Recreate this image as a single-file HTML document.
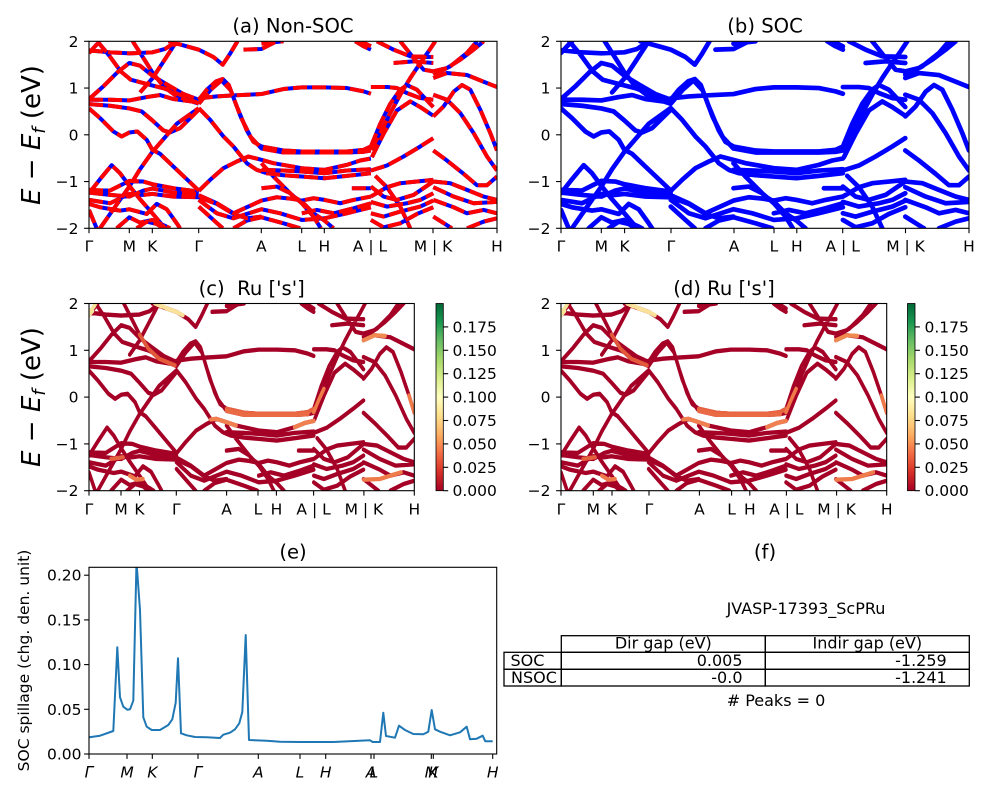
<!DOCTYPE html>
<html><head><meta charset="utf-8"><style>
html,body{margin:0;padding:0;background:#fff;}
svg{display:block;font-family:"DejaVu Sans","Liberation Sans",sans-serif;}
</style></head><body>
<svg width="1000" height="800" viewBox="0 0 1000 800" xmlns="http://www.w3.org/2000/svg">
<defs>
<linearGradient id="cmap" x1="0" y1="1" x2="0" y2="0">
<stop offset="0" stop-color="#a50026"/><stop offset="0.1" stop-color="#d73027"/><stop offset="0.2" stop-color="#f46d43"/><stop offset="0.3" stop-color="#fdae61"/><stop offset="0.4" stop-color="#fee08b"/><stop offset="0.5" stop-color="#ffffbf"/><stop offset="0.6" stop-color="#d9ef8b"/><stop offset="0.7" stop-color="#a6d96a"/><stop offset="0.8" stop-color="#66bd63"/><stop offset="0.9" stop-color="#1a9850"/><stop offset="1" stop-color="#006837"/>
</linearGradient>
<g id="bands" fill="none">
<path d="M267,152 L330,158 L388,161 L457,158 L495,148 L530,125
M505,125 L560,140 L596,150 L640,172 L668,195 L690,162 L712,125
M267,160 L285,140 L300,125
M292,125 L327,167 L362,215 L392,240 L452,256 L492,266 L552,290 L596,312
M267,298 L312,258 L352,218 L388,190 L420,198 L457,228 L500,254 L550,283 L596,300
M398,125 L430,175 L457,218 L490,260 L530,290 L596,312
M420,278 L457,236 L490,186 L520,140 L530,125
M267,300 L330,300 L388,302 L440,292 L480,286 L520,298 L596,308
M267,313 L330,318 L388,326 L425,335 L457,362 L490,392 L510,398 L540,385 L596,330
M267,326 L300,355 L340,395 L365,410 L388,398 L412,395 L440,420 L457,450 L480,462 L520,500 L560,538 L596,572
M300,685 L340,628 L388,560 L420,508 L457,456 L490,418 L530,372 L596,325
M267,580 L300,538 L335,496 L360,520 L388,558 L420,598 L457,640 L495,685
M267,570 L330,572 L388,543 L430,545 L457,553 L520,565 L596,575
M267,578 L330,585 L388,590 L430,572 L457,566 L520,578 L596,582
M267,600 L330,610 L388,582 L430,585 L457,582 L520,590 L596,592 L650,612 L700,642 L740,655 L784,650
M267,612 L300,622 L360,632 L388,628 L440,642 L470,612 L500,628 L530,670 L540,685
M267,630 L290,685
M350,685 L388,652 L420,668 L457,660 L500,680 L510,685
M410,685 L440,665 L470,672 L490,685
M596,300 L620,270 L648,245 L668,238 L686,256 L710,320 L740,392 L760,426 L784,440 L850,452 L905,455 L973,455 L1040,455 L1090,450 L1112,440
M596,312 L632,270 L664,242 L692,272 L722,352 L752,412 L784,446 L850,458 L973,458 L1040,458 L1090,456 L1112,452
M596,296 L650,290 L700,287 L784,283 L850,268 L905,263 L973,263 L1040,265 L1090,275 L1112,282
M596,325 L630,360 L670,410 L700,440 L740,490 L770,510 L800,520 L850,526 L905,530 L973,535 L1040,528 L1112,520
M596,573 L630,540 L670,505 L710,485 L745,470 L784,480 L820,490 L905,505 L973,510 L1040,495 L1080,482 L1112,476
M784,510 L850,512 L905,515 L973,520 L1040,512 L1112,508
M596,586 L650,610 L700,640 L740,622 L784,602 L830,592 L870,596 L905,602 L940,595 L973,600 L1020,610 L1060,600 L1112,590
M784,565 L830,560 L870,580 L905,610 L940,650 L962,685
M596,600 L650,640 L700,655 L740,642 L784,628 L840,640 L905,660 L973,655 L1040,640 L1112,622
M784,490 L820,530 L850,560 L880,590 L905,605 L940,640 L973,662 L1000,685
M1055,565 L1112,565
M730,150 L784,148 L810,135 L830,125
M784,132 L850,125
M1065,125 L1090,140 L1112,150
M1082,125 L1112,140
M596,620 L640,660 L668,685
M700,685 L740,662 L784,652 L850,670 L900,685
M905,640 L950,630 L1000,640 L1060,625 L1112,610
M1112,262 L1160,262 L1190,265 L1220,280 L1260,295 L1299,300
M1112,450 L1140,400 L1170,340 L1200,285 L1230,235 L1260,190 L1285,155 L1305,125
M1112,440 L1140,372 L1170,312 L1200,270 L1220,256 L1250,270 L1299,322
M1115,472 L1150,402 L1190,332 L1230,305 L1260,322 L1299,348
M1112,512 L1160,497 L1210,470 L1260,440 L1299,415
M1130,125 L1180,150 L1230,170 L1299,172
M1180,190 L1240,185 L1299,190
M1200,125 L1240,175 L1270,210 L1299,215
M1112,560 L1150,590 L1190,600 L1240,585 L1299,545
M1112,590 L1160,562 L1200,550 L1250,545 L1299,540
M1112,606 L1160,620 L1220,610 L1260,600 L1299,580
M1112,640 L1150,650 L1200,635 L1260,620 L1299,602
M1112,660 L1150,682 L1200,670 L1250,642 L1299,622
M1125,528 L1160,562 L1200,620 L1230,685
M1299,215 L1340,205 L1380,180 L1420,150 L1450,125
M1299,225 L1350,200 L1400,160 L1430,125
M1299,235 L1340,220 L1400,226 L1450,246 L1490,262
M1299,350 L1330,320 L1360,276 L1385,256 L1410,270 L1440,330 L1470,400 L1490,452
M1299,285 L1340,300 L1380,340 L1420,400 L1460,470 L1490,512
M1299,452 L1340,482 L1390,522 L1430,556 L1460,556 L1490,530
M1299,545 L1350,550 L1400,570 L1450,590 L1490,600
M1299,562 L1360,590 L1420,610 L1490,606
M1299,600 L1360,622 L1400,640 L1450,630 L1490,640
M1299,650 L1350,682 L1355,685
M1400,685 L1450,665 L1490,655"/>
</g>
<g id="hl" fill="none">
<path stroke="#f7e59a" d="M267,152 L285,135 L292,125 M267,160 L280,148"/>
<path stroke="#fbe29a" d="M545,134 L560,140 L596,150 L620,160 M515,125 L540,134"/>
<path stroke="#e25a3a" d="M457,218 L490,260 L530,290 L590,310"/>
<path stroke="#e8633f" d="M784,440 L850,452 L905,455 L973,455 L1040,455 L1090,450 L1112,440"/>
<path stroke="#ea6a44" d="M784,446 L850,458 L973,458 L1040,458 L1090,456"/>
<path stroke="#f08050" d="M725,472 L745,470 L784,480 L820,490 M1040,495 L1080,482 L1112,476"/>
<path stroke="#f08a50" d="M1299,235 L1340,220 L1380,222"/>
<path stroke="#ef7b4b" d="M420,640 L445,652 L470,650 M1300,652 L1360,650 L1420,635 L1440,630"/>
<path stroke="#f07a48" d="M1470,400 L1490,452 M1112,450 L1130,415 L1150,380"/>
<path stroke="#e4603e" d="M350,590 L395,585"/>
</g>
<clipPath id="clipE"><rect x="89" y="567.3" width="407.7" height="186.7"/></clipPath>
</defs>

<!-- Panel (a) -->
<text x="293" y="32.7" font-size="19.6" text-anchor="middle">(a) Non-SOC</text>
<svg x="89" y="41.3" width="408" height="187" viewBox="267 125 1223 560" preserveAspectRatio="none" overflow="hidden">
<use href="#bands" stroke="#0000ff" stroke-width="12" stroke-linejoin="round"/>
<use href="#bands" stroke="#ff0000" stroke-width="12" stroke-dasharray="42 15" stroke-linejoin="round"/>
</svg>
<rect x="89" y="41.3" width="408" height="187" fill="none" stroke="#000" stroke-width="1.1"/>
<g stroke="#000" stroke-width="1.1">
<line x1="84.1" y1="41.3" x2="89" y2="41.3"/><line x1="84.1" y1="88.05" x2="89" y2="88.05"/><line x1="84.1" y1="134.8" x2="89" y2="134.8"/><line x1="84.1" y1="181.55" x2="89" y2="181.55"/><line x1="84.1" y1="228.3" x2="89" y2="228.3"/>
<line x1="89" y1="228.3" x2="89" y2="233.2"/><line x1="129.3" y1="228.3" x2="129.3" y2="233.2"/><line x1="152.3" y1="228.3" x2="152.3" y2="233.2"/><line x1="198.7" y1="228.3" x2="198.7" y2="233.2"/><line x1="261.3" y1="228.3" x2="261.3" y2="233.2"/><line x1="301.7" y1="228.3" x2="301.7" y2="233.2"/><line x1="324.3" y1="228.3" x2="324.3" y2="233.2"/><line x1="370" y1="228.3" x2="370" y2="233.2"/><line x1="433" y1="228.3" x2="433" y2="233.2"/><line x1="497" y1="228.3" x2="497" y2="233.2"/>
</g>
<g font-size="15.5" text-anchor="end">
<text x="78.5" y="46.8">2</text><text x="78.5" y="93.5">1</text><text x="78.5" y="140.3">0</text><text x="78.5" y="187">−1</text><text x="78.5" y="233.8">−2</text>
</g>
<g font-size="15.5" text-anchor="middle">
<text x="89" y="251.7">Γ</text><text x="129.3" y="251.7">M</text><text x="152.3" y="251.7">K</text><text x="198.7" y="251.7">Γ</text><text x="261.3" y="251.7">A</text><text x="301.7" y="251.7">L</text><text x="324.3" y="251.7">H</text><text x="370" y="251.7">A | L</text><text x="433" y="251.7">M | K</text><text x="497" y="251.7">H</text>
</g>
<text transform="translate(40,135) rotate(-90)" font-size="26" text-anchor="middle"><tspan font-style="italic">E</tspan> − <tspan font-style="italic">E</tspan><tspan font-style="italic" font-size="18" dy="5">f</tspan><tspan dy="-5"> (eV)</tspan></text>

<!-- Panel (b) -->
<text x="765" y="32.7" font-size="19.6" text-anchor="middle">(b) SOC</text>
<svg x="561" y="41.3" width="408" height="187" viewBox="267 125 1223 560" preserveAspectRatio="none" overflow="hidden">
<use href="#bands" stroke="#0000ff" stroke-width="14" stroke-linejoin="round" stroke-linecap="round"/>
</svg>
<rect x="561" y="41.3" width="408" height="187" fill="none" stroke="#000" stroke-width="1.1"/>
<g stroke="#000" stroke-width="1.1">
<line x1="556.1" y1="41.3" x2="561" y2="41.3"/><line x1="556.1" y1="88.05" x2="561" y2="88.05"/><line x1="556.1" y1="134.8" x2="561" y2="134.8"/><line x1="556.1" y1="181.55" x2="561" y2="181.55"/><line x1="556.1" y1="228.3" x2="561" y2="228.3"/>
<line x1="561" y1="228.3" x2="561" y2="233.2"/><line x1="601.3" y1="228.3" x2="601.3" y2="233.2"/><line x1="624.6" y1="228.3" x2="624.6" y2="233.2"/><line x1="671" y1="228.3" x2="671" y2="233.2"/><line x1="734" y1="228.3" x2="734" y2="233.2"/><line x1="774" y1="228.3" x2="774" y2="233.2"/><line x1="796.8" y1="228.3" x2="796.8" y2="233.2"/><line x1="842.7" y1="228.3" x2="842.7" y2="233.2"/><line x1="905.5" y1="228.3" x2="905.5" y2="233.2"/><line x1="969" y1="228.3" x2="969" y2="233.2"/>
</g>
<g font-size="15.5" text-anchor="end">
<text x="550.5" y="46.8">2</text><text x="550.5" y="93.5">1</text><text x="550.5" y="140.3">0</text><text x="550.5" y="187">−1</text><text x="550.5" y="233.8">−2</text>
</g>
<g font-size="15.5" text-anchor="middle">
<text x="561" y="251.7">Γ</text><text x="601.3" y="251.7">M</text><text x="624.6" y="251.7">K</text><text x="671" y="251.7">Γ</text><text x="734" y="251.7">A</text><text x="774" y="251.7">L</text><text x="796.8" y="251.7">H</text><text x="842.7" y="251.7">A | L</text><text x="905.5" y="251.7">M | K</text><text x="969" y="251.7">H</text>
</g>

<!-- Panel (c) -->
<text x="251.7" y="294.9" font-size="19.6" text-anchor="middle">(c)&#160; Ru ['s']</text>
<svg x="89" y="303.5" width="325.3" height="187.2" viewBox="267 125 1223 560" preserveAspectRatio="none" overflow="hidden">
<use href="#bands" stroke="#a50026" stroke-width="13" stroke-linejoin="round" stroke-linecap="round"/>
<use href="#hl" stroke-width="13" stroke-linejoin="round" stroke-linecap="round"/>
</svg>
<rect x="89" y="303.5" width="325.3" height="187.2" fill="none" stroke="#000" stroke-width="1.1"/>
<g stroke="#000" stroke-width="1.1">
<line x1="84.1" y1="303.5" x2="89" y2="303.5"/><line x1="84.1" y1="350.3" x2="89" y2="350.3"/><line x1="84.1" y1="397.1" x2="89" y2="397.1"/><line x1="84.1" y1="443.9" x2="89" y2="443.9"/><line x1="84.1" y1="490.7" x2="89" y2="490.7"/>
<line x1="89" y1="490.7" x2="89" y2="495.6"/><line x1="121" y1="490.7" x2="121" y2="495.6"/><line x1="139.5" y1="490.7" x2="139.5" y2="495.6"/><line x1="176.3" y1="490.7" x2="176.3" y2="495.6"/><line x1="226.6" y1="490.7" x2="226.6" y2="495.6"/><line x1="258" y1="490.7" x2="258" y2="495.6"/><line x1="276.4" y1="490.7" x2="276.4" y2="495.6"/><line x1="313.6" y1="490.7" x2="313.6" y2="495.6"/><line x1="363.9" y1="490.7" x2="363.9" y2="495.6"/><line x1="414.3" y1="490.7" x2="414.3" y2="495.6"/>
</g>
<g font-size="15.5" text-anchor="end">
<text x="78.5" y="309">2</text><text x="78.5" y="355.8">1</text><text x="78.5" y="402.6">0</text><text x="78.5" y="449.4">−1</text><text x="78.5" y="496.2">−2</text>
</g>
<g font-size="15.5" text-anchor="middle">
<text x="89" y="514.3">Γ</text><text x="121" y="514.3">M</text><text x="139.5" y="514.3">K</text><text x="176.3" y="514.3">Γ</text><text x="226.6" y="514.3">A</text><text x="258" y="514.3">L</text><text x="276.4" y="514.3">H</text><text x="313.6" y="514.3">A | L</text><text x="363.9" y="514.3">M | K</text><text x="414.3" y="514.3">H</text>
</g>
<text transform="translate(40,397) rotate(-90)" font-size="26" text-anchor="middle"><tspan font-style="italic">E</tspan> − <tspan font-style="italic">E</tspan><tspan font-style="italic" font-size="18" dy="5">f</tspan><tspan dy="-5"> (eV)</tspan></text>
<!-- colorbar c -->
<rect x="436" y="303.5" width="7.3" height="187.2" fill="url(#cmap)" stroke="#000" stroke-width="0.8"/>
<g stroke="#000" stroke-width="1.1">
<line x1="443.3" y1="490.7" x2="448.2" y2="490.7"/><line x1="443.3" y1="467.3" x2="448.2" y2="467.3"/><line x1="443.3" y1="443.9" x2="448.2" y2="443.9"/><line x1="443.3" y1="420.5" x2="448.2" y2="420.5"/><line x1="443.3" y1="397.1" x2="448.2" y2="397.1"/><line x1="443.3" y1="373.7" x2="448.2" y2="373.7"/><line x1="443.3" y1="350.3" x2="448.2" y2="350.3"/><line x1="443.3" y1="326.9" x2="448.2" y2="326.9"/>
</g>
<g font-size="15.5">
<text x="452.5" y="496.2">0.000</text><text x="452.5" y="472.8">0.025</text><text x="452.5" y="449.4">0.050</text><text x="452.5" y="426">0.075</text><text x="452.5" y="402.6">0.100</text><text x="452.5" y="379.2">0.125</text><text x="452.5" y="355.8">0.150</text><text x="452.5" y="332.4">0.175</text>
</g>

<!-- Panel (d) -->
<text x="724" y="294.9" font-size="19.6" text-anchor="middle">(d) Ru ['s']</text>
<svg x="561" y="303.5" width="325.7" height="187.2" viewBox="267 125 1223 560" preserveAspectRatio="none" overflow="hidden">
<use href="#bands" stroke="#a50026" stroke-width="13" stroke-linejoin="round" stroke-linecap="round"/>
<use href="#hl" stroke-width="13" stroke-linejoin="round" stroke-linecap="round"/>
</svg>
<rect x="561" y="303.5" width="325.7" height="187.2" fill="none" stroke="#000" stroke-width="1.1"/>
<g stroke="#000" stroke-width="1.1">
<line x1="556.1" y1="303.5" x2="561" y2="303.5"/><line x1="556.1" y1="350.3" x2="561" y2="350.3"/><line x1="556.1" y1="397.1" x2="561" y2="397.1"/><line x1="556.1" y1="443.9" x2="561" y2="443.9"/><line x1="556.1" y1="490.7" x2="561" y2="490.7"/>
<line x1="561" y1="490.7" x2="561" y2="495.6"/><line x1="593.3" y1="490.7" x2="593.3" y2="495.6"/><line x1="612" y1="490.7" x2="612" y2="495.6"/><line x1="649" y1="490.7" x2="649" y2="495.6"/><line x1="699.4" y1="490.7" x2="699.4" y2="495.6"/><line x1="731.6" y1="490.7" x2="731.6" y2="495.6"/><line x1="749.8" y1="490.7" x2="749.8" y2="495.6"/><line x1="786.4" y1="490.7" x2="786.4" y2="495.6"/><line x1="836.6" y1="490.7" x2="836.6" y2="495.6"/><line x1="886.7" y1="490.7" x2="886.7" y2="495.6"/>
</g>
<g font-size="15.5" text-anchor="end">
<text x="550.5" y="309">2</text><text x="550.5" y="355.8">1</text><text x="550.5" y="402.6">0</text><text x="550.5" y="449.4">−1</text><text x="550.5" y="496.2">−2</text>
</g>
<g font-size="15.5" text-anchor="middle">
<text x="561" y="514.3">Γ</text><text x="593.3" y="514.3">M</text><text x="612" y="514.3">K</text><text x="649" y="514.3">Γ</text><text x="699.4" y="514.3">A</text><text x="731.6" y="514.3">L</text><text x="749.8" y="514.3">H</text><text x="786.4" y="514.3">A | L</text><text x="836.6" y="514.3">M | K</text><text x="886.7" y="514.3">H</text>
</g>
<!-- colorbar d -->
<rect x="907.5" y="303.5" width="7.5" height="187.2" fill="url(#cmap)" stroke="#000" stroke-width="0.8"/>
<g stroke="#000" stroke-width="1.1">
<line x1="915" y1="490.7" x2="919.9" y2="490.7"/><line x1="915" y1="467.3" x2="919.9" y2="467.3"/><line x1="915" y1="443.9" x2="919.9" y2="443.9"/><line x1="915" y1="420.5" x2="919.9" y2="420.5"/><line x1="915" y1="397.1" x2="919.9" y2="397.1"/><line x1="915" y1="373.7" x2="919.9" y2="373.7"/><line x1="915" y1="350.3" x2="919.9" y2="350.3"/><line x1="915" y1="326.9" x2="919.9" y2="326.9"/>
</g>
<g font-size="15.5">
<text x="924.5" y="496.2">0.000</text><text x="924.5" y="472.8">0.025</text><text x="924.5" y="449.4">0.050</text><text x="924.5" y="426">0.075</text><text x="924.5" y="402.6">0.100</text><text x="924.5" y="379.2">0.125</text><text x="924.5" y="355.8">0.150</text><text x="924.5" y="332.4">0.175</text>
</g>

<!-- Panel (e) -->
<text x="293" y="558.5" font-size="19.6" text-anchor="middle">(e)</text>
<g clip-path="url(#clipE)">
<polyline fill="none" stroke="#1f77b4" stroke-width="2" stroke-linejoin="round" points="89.3,737.3 100,735.7 113.3,731 117.3,647.3 120,697.3 123.3,706.7 127.3,709.7 130,709.3 133.3,700.7 136.5,562 140,610 143.3,717.3 146.7,726.7 151.7,730 160,730 168.3,725 172.3,719.3 175.7,702.7 178,658.3 181,733.3 186.7,735.3 195,737 206.7,737.3 220,738 223.3,734.7 230,732.7 235,729.3 239.3,723.3 242.3,712 245.7,635 249,740 266.7,740.7 280,741.7 300,742 333.3,742 370,740.3 372.7,742 380,742 383.3,712.7 386,736 395,737.7 399,725.7 405,730 413.3,734 423.3,734.3 428.3,731.7 431.7,710 435,729.3 440,731.7 450,735.3 460,732.3 466.7,726.7 470,739.3 476.7,738.7 482.7,735.7 485.3,741.3 492.7,741.3"/>
</g>
<rect x="89" y="567.3" width="407.7" height="186.7" fill="none" stroke="#000" stroke-width="1.1"/>
<g stroke="#000" stroke-width="1.1">
<line x1="84.1" y1="754" x2="89" y2="754"/><line x1="84.1" y1="709.3" x2="89" y2="709.3"/><line x1="84.1" y1="664.6" x2="89" y2="664.6"/><line x1="84.1" y1="619.9" x2="89" y2="619.9"/><line x1="84.1" y1="575.2" x2="89" y2="575.2"/>
<line x1="89" y1="754" x2="89" y2="758.9"/><line x1="127" y1="754" x2="127" y2="758.9"/><line x1="152.3" y1="754" x2="152.3" y2="758.9"/><line x1="198" y1="754" x2="198" y2="758.9"/><line x1="258.3" y1="754" x2="258.3" y2="758.9"/><line x1="300" y1="754" x2="300" y2="758.9"/><line x1="325.7" y1="754" x2="325.7" y2="758.9"/><line x1="371" y1="754" x2="371" y2="758.9"/><line x1="374" y1="754" x2="374" y2="758.9"/><line x1="431.3" y1="754" x2="431.3" y2="758.9"/><line x1="433.3" y1="754" x2="433.3" y2="758.9"/><line x1="492.7" y1="754" x2="492.7" y2="758.9"/>
</g>
<g font-size="15.5" text-anchor="end">
<text x="81.5" y="759.5">0.00</text><text x="81.5" y="714.8">0.05</text><text x="81.5" y="670.1">0.10</text><text x="81.5" y="625.4">0.15</text><text x="81.5" y="580.7">0.20</text>
</g>
<g font-size="15.5" text-anchor="middle" font-style="italic">
<text x="89" y="777.4">Γ</text><text x="127" y="777.4">M</text><text x="152.3" y="777.4">K</text><text x="198" y="777.4">Γ</text><text x="258.3" y="777.4">A</text><text x="300" y="777.4">L</text><text x="325.7" y="777.4">H</text><text x="371" y="777.4">A</text><text x="374" y="777.4">L</text><text x="431.3" y="777.4">M</text><text x="433.3" y="777.4">K</text><text x="492.7" y="777.4">H</text>
</g>
<text transform="translate(29,660.5) rotate(-90)" font-size="15.5" text-anchor="middle">SOC spillage (chg. den. unit)</text>

<!-- Panel (f) -->
<text x="765" y="558.5" font-size="19.6" text-anchor="middle">(f)</text>
<text x="806" y="614" font-size="16" text-anchor="middle">JVASP-17393_ScPRu</text>
<g fill="none" stroke="#000" stroke-width="1.3">
<rect x="561.3" y="635.7" width="204" height="16.6"/><rect x="765.3" y="635.7" width="204" height="16.6"/>
<rect x="504" y="652.3" width="57.3" height="17"/><rect x="561.3" y="652.3" width="204" height="17"/><rect x="765.3" y="652.3" width="204" height="17"/>
<rect x="504" y="669.3" width="57.3" height="16.7"/><rect x="561.3" y="669.3" width="204" height="16.7"/><rect x="765.3" y="669.3" width="204" height="16.7"/>
</g>
<g font-size="16">
<text x="663.3" y="648.5" text-anchor="middle">Dir gap (eV)</text>
<text x="867.3" y="648.5" text-anchor="middle">Indir gap (eV)</text>
<text x="510.5" y="666">SOC</text>
<text x="742.5" y="666" text-anchor="end">0.005</text>
<text x="946.7" y="666" text-anchor="end">-1.259</text>
<text x="511" y="683">NSOC</text>
<text x="742.5" y="683" text-anchor="end">-0.0</text>
<text x="946.7" y="683" text-anchor="end">-1.241</text>
</g>
<text x="776" y="706" font-size="16" text-anchor="middle"># Peaks = 0</text>
</svg>
</body></html>
